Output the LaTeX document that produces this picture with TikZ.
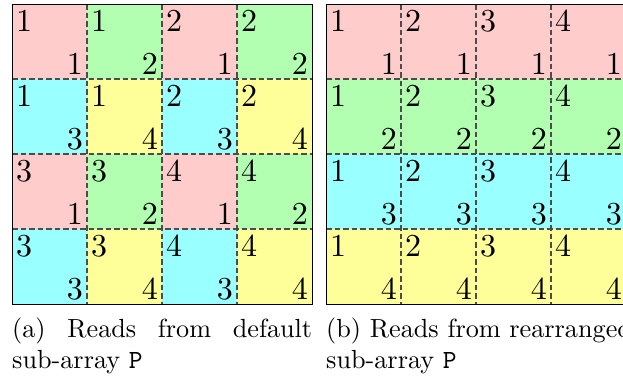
\documentclass[tikz,border=0pt]{standalone}
\usepackage{fontspec}
\setmainfont{lmroman10-regular.otf}
\setmonofont{lmmono10-regular.otf}
\begin{document}
\begin{tikzpicture}[x=1pt,y=-1pt,
  num/.style={inner sep=0pt, font=\fontsize{32}{38}\selectfont},
  captext/.style={inner sep=0pt, anchor=base west, font=\fontsize{26.2}{31}\selectfont},
  dashline/.style={draw=black!70, line width=1.2pt, dash pattern=on 5.5pt off 3pt},
  frame/.style={draw=black, line width=0.9pt}]
\definecolor{c1}{rgb}{1,0.8,0.8}
\definecolor{c2}{rgb}{0.7,1,0.7}
\definecolor{c3}{rgb}{0.6,1,1}
\definecolor{c4}{rgb}{1,1,0.6}
\useasboundingbox (0,0) rectangle (623,381);
\clip (0,0) rectangle (623,381);
% ---------- left grid (a)
\foreach \r in {0,...,3}{
  \foreach \c in {0,...,3}{
    \pgfmathtruncatemacro{\tl}{1+2*floor(\r/2)+floor(\c/2)}
    \pgfmathtruncatemacro{\br}{1+2*mod(\r,2)+mod(\c,2)}
    \fill[c\br] (12+75*\c,4+75*\r) rectangle ++(75,75);
    \node[num, anchor=base west] (a-\r-\c-tl) at (16+75*\c,31+75*\r) {\tl};
    \node[num, anchor=base east] (a-\r-\c-br) at (83+75*\c,74.5+75*\r) {\br};
  }
}
\foreach \i in {1,2,3}{
  \draw[dashline] (12+75*\i,4) -- (12+75*\i,304);
  \draw[dashline] (12,4+75*\i) -- (312,4+75*\i);
}
\draw[frame] (12,4) rectangle (312,304);
% ---------- right grid (b)
\foreach \r in {0,...,3}{
  \foreach \c in {0,...,3}{
    \pgfmathtruncatemacro{\tl}{1+\c}
    \pgfmathtruncatemacro{\br}{1+\r}
    \fill[c\br] (326+75*\c,4+75*\r) rectangle ++(75,75);
    \node[num, anchor=base west] (b-\r-\c-tl) at (330+75*\c,31+75*\r) {\tl};
    \node[num, anchor=base east] (b-\r-\c-br) at (397+75*\c,74.5+75*\r) {\br};
  }
}
\foreach \i in {1,2,3}{
  \draw[dashline] (326+75*\i,4) -- (326+75*\i,304);
  \draw[dashline] (326,4+75*\i) -- (626,4+75*\i);
}
\draw[frame] (326,4) rectangle (626,304);
% ---------- captions
\node[captext] (capa1) at (12,337) {\makebox[300pt][s]{(a) Reads from default}};
\node[captext] (capa2) at (12,368) {sub-array \texttt{P}};
\node[captext] (capb1) at (326,337) {(b) Reads from rearranged};
\node[captext] (capb2) at (326,368) {sub-array \texttt{P}};
\end{tikzpicture}
\end{document}
